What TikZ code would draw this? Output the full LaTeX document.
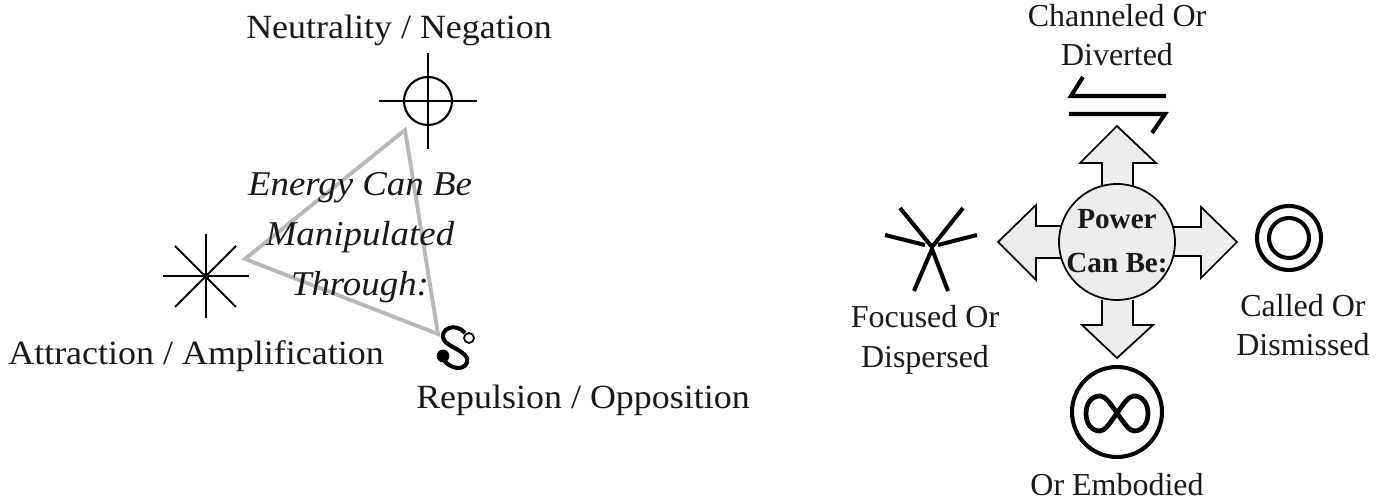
\documentclass[tikz,border=0pt]{standalone}
\usepackage{fontspec}
\setmainfont{Liberation Serif}
\newfontfamily\widefont[FakeStretch=1.06]{Liberation Serif}
\tikzset{
  label text/.style={font=\fontsize{18.2}{22.5}\selectfont, text=black!90, inner sep=0pt, align=center},
  wide text/.style={label text, font=\widefont\fontsize{19.3}{24}\selectfont},
  glyph/.style={line width=1.2pt, black},
  heavy glyph/.style={line width=2.3pt, black},
  block arrow/.style={fill=black!7, draw=black, line width=1pt, line join=miter}
}
\begin{document}
\begin{tikzpicture}[x=.02cm,y=-.02cm]
\useasboundingbox (0,0) rectangle (1380,502);

% triangle and its text
\draw [black!28, line width=2.2pt, line join=miter] (405,130) -- (245,259) -- (438,334) -- cycle;
\node [wide text, font=\widefont\fontsize{19.8}{24}\selectfont\itshape] (energy) at (360,238) {Energy Can Be\\[.22em] Manipulated\\[.22em] Through:};

% neutrality
\draw [glyph] (428,101) circle [radius=24];
\draw [glyph] (379,101) -- (477,101);
\draw [glyph] (428,53) -- (428,149);
\node [wide text] (neutrality) at (399,30) {Neutrality / Negation};

% attraction
\draw [glyph] (163,276) -- (249,276);
\draw [glyph] (206,234) -- (206,318);
\draw [glyph] (175,246) -- (236,307);
\draw [glyph] (236,246) -- (175,307);
\draw [fill] (206,276) circle [radius=3];
\node [wide text] (attraction) at (196,356) {Attraction / Amplification};

% repulsion
\draw [heavy glyph] (465,333) .. controls (461,328) and (454,326) .. (449,328) .. controls (444,330) and (441,335) .. (444,340) .. controls (447,346) and (463,350) .. (467,358) .. controls (469,364) and (463,369) .. (457,368) .. controls (452,367) and (447,365) .. (444,360);
\draw [black, line width=1pt] (469,338) circle [radius=5];
\draw [fill] (443,356) circle [radius=6];
\node [wide text] (repulsion) at (583,400) {Repulsion / Opposition};

% power
\draw [block arrow] (1102,190) -- (1102,163) -- (1080,163) -- (1117,126) -- (1156,163) -- (1133,163) -- (1133,190);
\draw [block arrow] (1102,300) -- (1102,325) -- (1082,325) -- (1117,358) -- (1153,325) -- (1133,325) -- (1133,300);
\draw [block arrow] (1070,226) -- (1036,226) -- (1036,205) -- (998,242) -- (1036,280) -- (1036,258) -- (1070,258);
\draw [block arrow] (1165,227) -- (1201,227) -- (1201,207) -- (1237,242) -- (1201,278) -- (1201,256) -- (1165,256);
\draw [block arrow] (1117,242) circle [radius=58];
\node [label text, font=\fontsize{16.6}{25}\selectfont\bfseries] (power) at (1117,241) {Power\\ Can Be:};

% channeled
\draw [heavy glyph] (1083,77) -- (1071,96) -- (1166,96);
\draw [heavy glyph] (1069,114) -- (1165,114) -- (1152,133);
\node [label text] (channeled) at (1117,35) {Channeled Or\\ Diverted};

% focused
\draw [heavy glyph] (900,208) -- (932,247) -- (963,208);
\draw [heavy glyph] (885,235) -- (925,245);
\draw [heavy glyph] (977,235) -- (938,245);
\draw [heavy glyph] (914,291) -- (932,249) -- (948,291);
\node [label text] (focused) at (925,340) {Focused Or\\ Dispersed};

% called
\draw [heavy glyph] (1289,238) circle [radius=32];
\draw [heavy glyph] (1289,238) circle [radius=20];
\node [label text] (called) at (1303,325) {Called Or\\ Dismissed};

% embodied
\draw [heavy glyph] (1117,412) circle [radius=45];
\draw [heavy glyph, line width=2.7pt] (1117,413) .. controls (1110,403) and (1105,396) .. (1100,396) .. controls (1091,396) and (1086,404) .. (1086,413.5) .. controls (1086,423) and (1091,431) .. (1100,431) .. controls (1105,431) and (1110,423) .. (1117,413) .. controls (1124,403) and (1129,396) .. (1134,396) .. controls (1143,396) and (1148,404) .. (1148,413.5) .. controls (1148,423) and (1143,431) .. (1134,431) .. controls (1129,431) and (1124,423) .. (1117,413) -- cycle;
\node [label text] (embodied) at (1117,485) {Or Embodied};
\end{tikzpicture}
\end{document}
